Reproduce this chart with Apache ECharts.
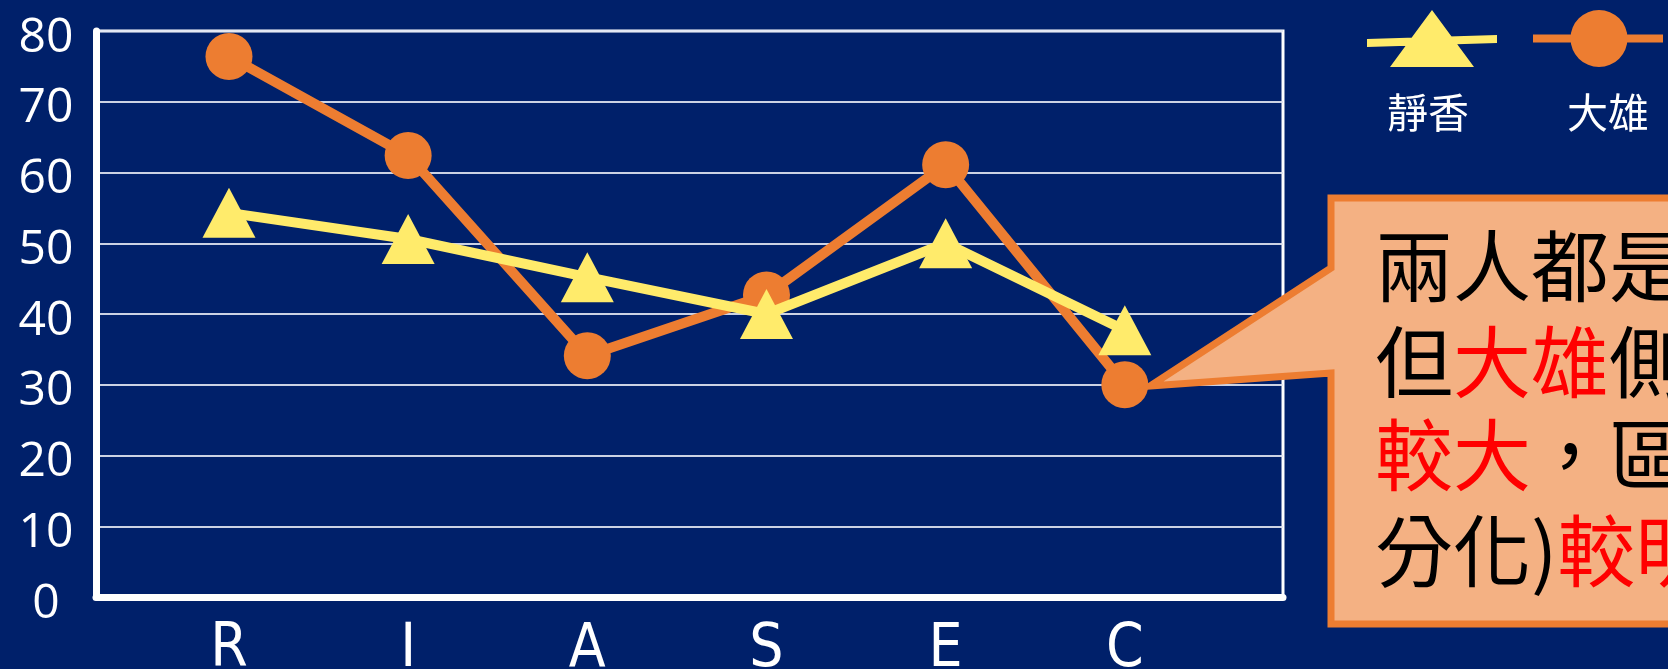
<!DOCTYPE html>
<html>
<head>
<meta charset="utf-8">
<script src="https://cdn.jsdelivr.net/npm/echarts@6/dist/echarts.min.js"></script>
<style>
html,body{margin:0;padding:0;background:#00206A;}
#c{width:1668px;height:669px;}
</style>
</head>
<body>
<div id="c"></div>
<script>
const categories = ['R', 'I', 'A', 'S', 'E', 'C'];
const shizukaValues = [54.3, 50.6, 45.2, 40.0, 50.0, 37.7];
const nobitaValues = [76.4, 62.4, 34.1, 42.7, 61.1, 30.0];
const yTicks = [0, 10, 20, 30, 40, 50, 60, 70, 80];
const seriesNames = ['靜香', '大雄'];
const calloutLines = [
  [['k', '兩人都是']],
  [['k', '但'], ['r', '大雄'], ['k', '側']],
  [['r', '較大'], ['k', '，區']],
  [['k', '分化)'], ['r', '較明']]
];

const chart = echarts.init(document.getElementById('c'), null, {renderer: 'canvas'});
const BG = '#00206A';
const cjk = '"Noto Sans CJK TC","Noto Sans CJK SC",sans-serif';

const yMin = yTicks[0], yMax = yTicks[yTicks.length - 1], yStep = yTicks[1] - yTicks[0];

const plotTop = 31, plotBottom = 597, plotLeft = 96, plotRight = 1283;
const dataLeft = 139.4, dataWidth = 1075;

const option = {
  backgroundColor: BG,
  animation: false,
  grid: [
    {left: plotLeft, top: plotTop, width: plotRight - plotLeft, height: plotBottom - plotTop,
     show: true, borderColor: '#FFFFFF', borderWidth: 3, backgroundColor: 'transparent', outerBoundsMode: 'none'},
    {left: dataLeft, top: plotTop, width: dataWidth, height: plotBottom - plotTop,
     show: false, outerBoundsMode: 'none'}
  ],
  xAxis: [
    {gridIndex: 0, type: 'value', min: 0, max: 1, show: true,
     axisLine: {show: true, onZero: false, lineStyle: {color: '#FFFFFF', width: 7}},
     axisTick: {show: false}, axisLabel: {show: false}, splitLine: {show: false}},
    {gridIndex: 1, type: 'category', data: categories, boundaryGap: true,
     axisLine: {show: false}, axisTick: {show: false}, splitLine: {show: false},
     axisLabel: {color: '#FFFFFF', fontSize: 60, margin: 23,
       fontFamily: '"Liberation Sans Narrow","DejaVu Sans Condensed",sans-serif'}}
  ],
  yAxis: [
    {gridIndex: 0, type: 'value', min: yMin, max: yMax, interval: yStep,
     axisLine: {show: true, lineStyle: {color: '#FFFFFF', width: 7}},
     axisTick: {show: false},
     splitLine: {show: true, lineStyle: {color: 'rgba(225,230,242,0.9)', width: 2}},
     axisLabel: {color: '#FFFFFF', fontSize: 48, margin: 50, align: 'center', verticalAlign: 'top', lineHeight: 14,
       fontFamily: '"Open Sans","Liberation Sans",sans-serif'}},
    {gridIndex: 1, type: 'value', min: yMin, max: yMax, interval: yStep, show: false,
     splitLine: {show: false}}
  ],
  legend: {
    data: [
      {name: seriesNames[0], icon: 'path://M0,29 L130,25 L130,33 L0,37 Z M65,0 L107,57 L23,57 Z'},
      {name: seriesNames[1], icon: 'path://M0,24.5 L130,24.5 L130,32.5 L0,32.5 Z M37.5,28.5 A28.5,28.5 0 1,1 94.5,28.5 A28.5,28.5 0 1,1 37.5,28.5 Z'}
    ],
    left: 1367, top: 10, orient: 'horizontal', padding: 0,
    itemWidth: 130, itemHeight: 57, itemGap: 36,
    itemStyle: {borderWidth: 0},
    formatter: () => '',
    textStyle: {fontSize: 1, color: BG},
    selectedMode: false
  },
  series: [
    {name: seriesNames[1], type: 'line', xAxisIndex: 1, yAxisIndex: 1, data: nobitaValues,
     symbol: 'circle', symbolSize: 47,
     lineStyle: {color: '#ED7D31', width: 10},
     itemStyle: {color: '#ED7D31'}, z: 3},
    {name: seriesNames[0], type: 'line', xAxisIndex: 1, yAxisIndex: 1, data: shizukaValues,
     symbol: 'triangle', symbolSize: [53, 50],
     lineStyle: {color: '#FFEB6B', width: 10},
     itemStyle: {color: '#FFEB6B'}, z: 4}
  ],
  graphic: [
    {type: 'text', z: 10,
     style: {text: seriesNames[0], fill: '#FFFFFF', font: '41px ' + cjk, align: 'center', verticalAlign: 'middle'},
     x: 1428, y: 112},
    {type: 'text', z: 10,
     style: {text: seriesNames[1], fill: '#FFFFFF', font: '41px ' + cjk, align: 'center', verticalAlign: 'middle'},
     x: 1608, y: 112},
    {type: 'polygon', z: 20,
     shape: {points: [[1331, 198], [1700, 198], [1700, 624], [1331, 624], [1331, 373], [1150, 386], [1331, 268]]},
     style: {fill: '#F4B183', stroke: '#ED7D31', lineWidth: 7, lineJoin: 'miter'}}
  ].concat(calloutLines.map((parts, i) => ({
    type: 'text', z: 21, x: 1375, y: [266, 362, 455, 551][i],
    style: {
      text: parts.map(p => '{' + p[0] + '|' + p[1] + '}').join(''),
      verticalAlign: 'middle', align: 'left',
      rich: {
        k: {fill: '#000000', fontSize: 78, fontFamily: cjk},
        r: {fill: '#FF0000', fontSize: 78, fontFamily: cjk}
      }
    }
  })))
};
chart.setOption(option);
</script>
</body>
</html>
